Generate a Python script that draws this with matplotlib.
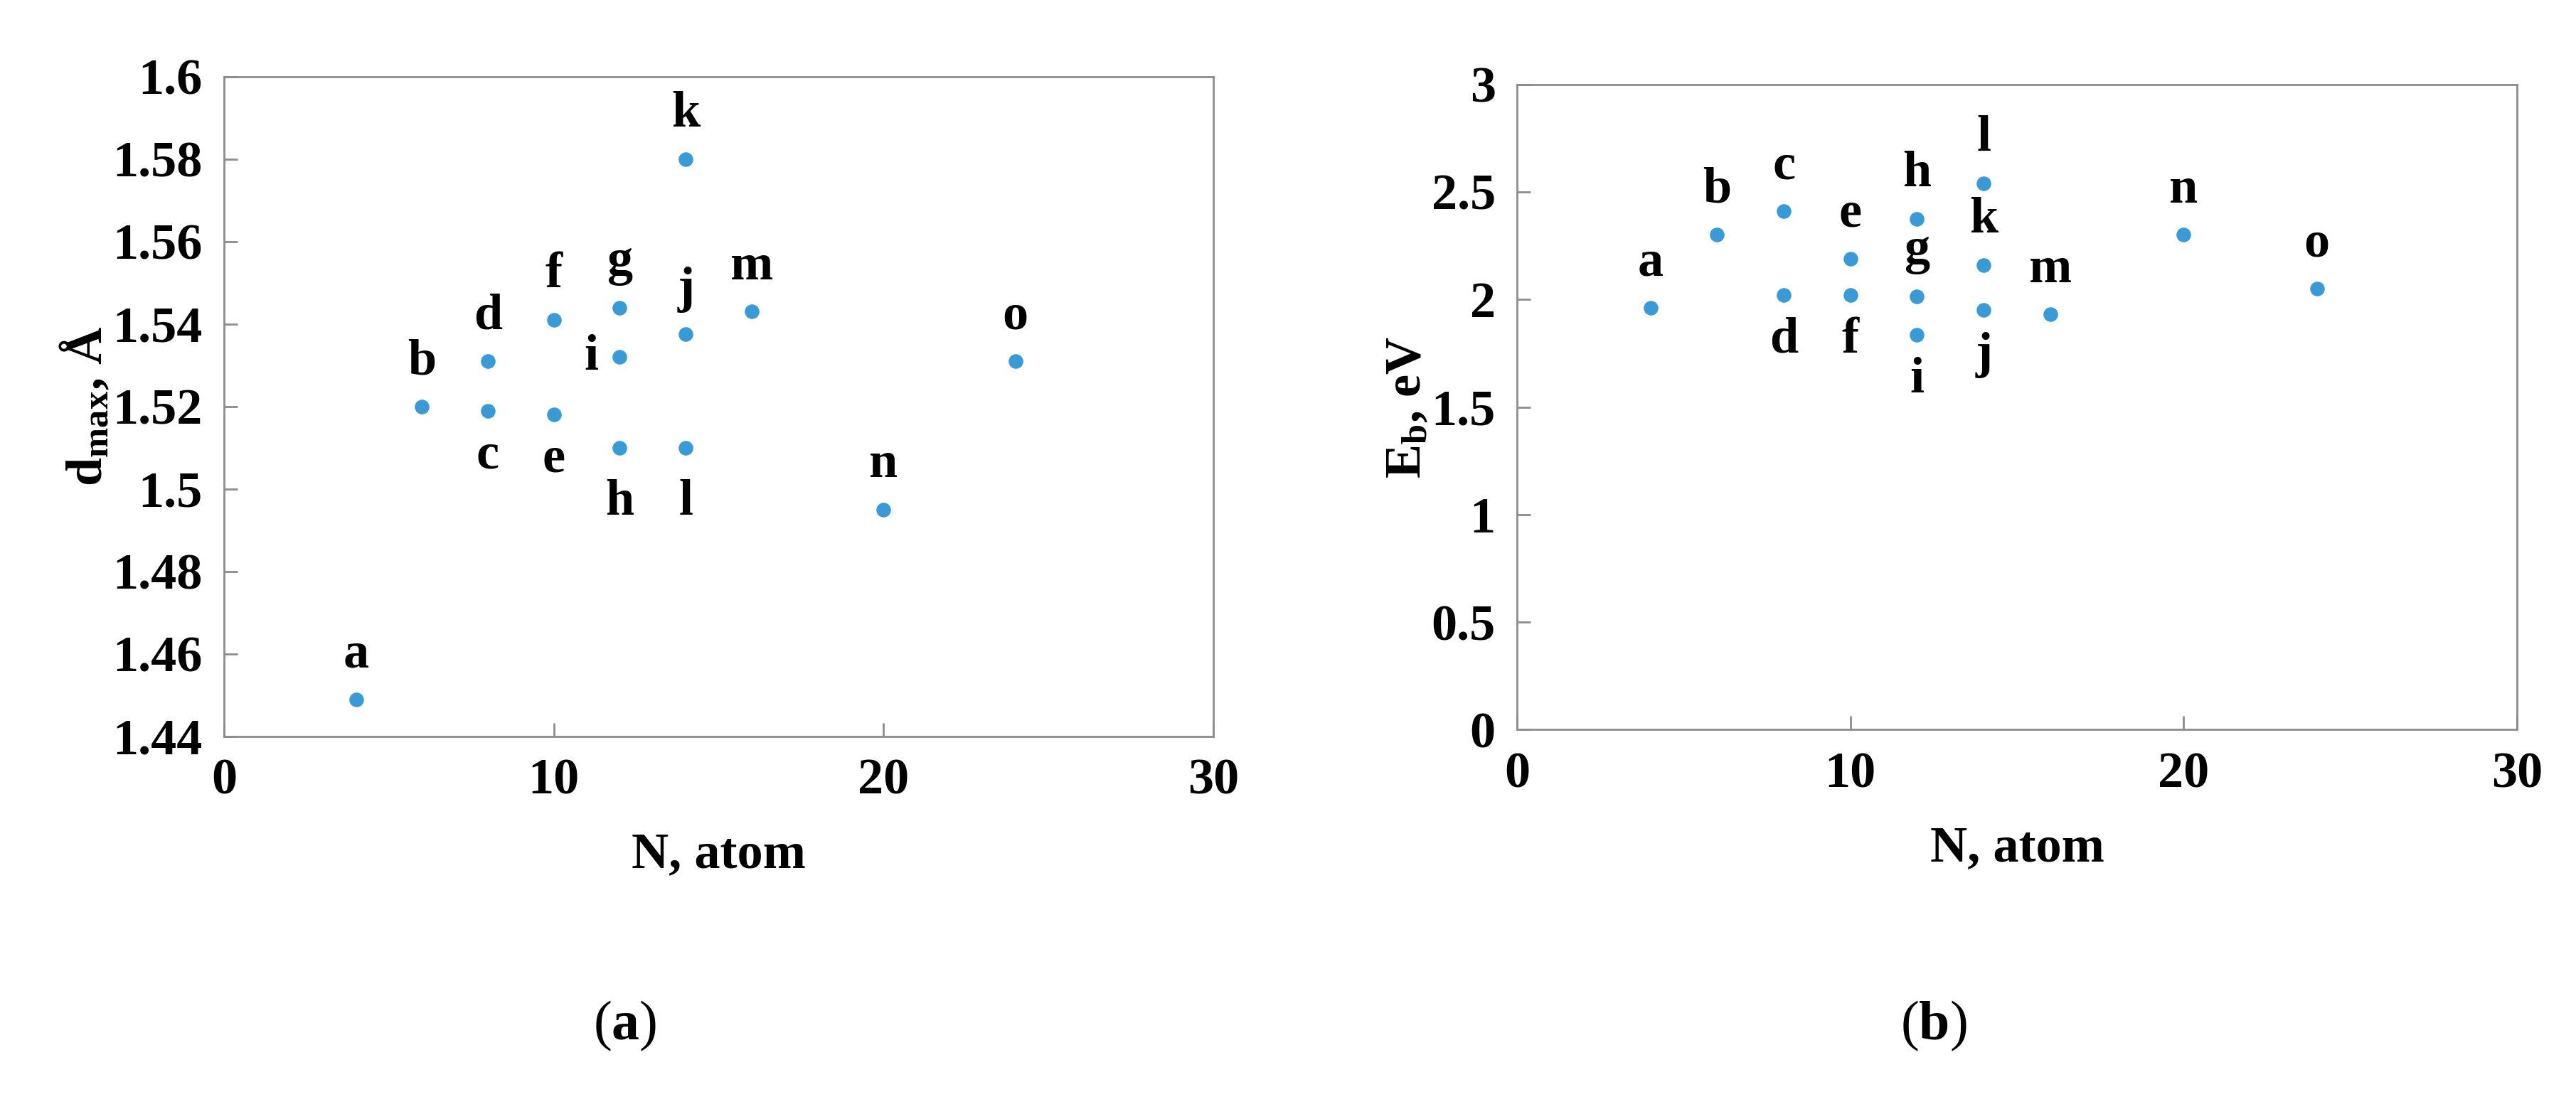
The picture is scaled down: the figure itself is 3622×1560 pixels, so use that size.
import matplotlib
matplotlib.use('Agg')
import matplotlib.pyplot as plt

plt.rcParams['font.family'] = ['Liberation Serif', 'DejaVu Serif']
plt.rcParams['font.weight'] = 'bold'
plt.rcParams['axes.labelweight'] = 'bold'
plt.rcParams['mathtext.fontset'] = 'custom'
plt.rcParams['mathtext.rm'] = 'Liberation Serif:bold'
plt.rcParams['mathtext.it'] = 'Liberation Serif:bold'
plt.rcParams['mathtext.bf'] = 'Liberation Serif:bold'

# data
labels = ['a', 'b', 'c', 'd', 'e', 'f', 'g', 'h', 'i', 'j', 'k', 'l', 'm', 'n', 'o']
n_a = [4, 6, 8, 8, 10, 10, 12, 12, 12, 14, 14, 14, 16, 20, 24]
dmax = [1.449, 1.520, 1.519, 1.531, 1.518, 1.541, 1.544, 1.510, 1.532,
        1.5375, 1.580, 1.510, 1.543, 1.495, 1.531]
n_b = [4, 6, 8, 8, 10, 10, 12, 12, 12, 14, 14, 14, 16, 20, 24]
eb = [1.961, 2.30, 2.41, 2.02, 2.19, 2.02, 2.014, 2.375, 1.835,
      1.95, 2.16, 2.54, 1.93, 2.30, 2.05]

# label placement: 'u' above, 'd' below, 'dd' further below, 'l' left
pos_a = ['u', 'u', 'd', 'u', 'd', 'u', 'u', 'dd', 'l', 'u', 'u', 'dd', 'u', 'u', 'u']
pos_b = ['u', 'u', 'u', 'd', 'u', 'd', 'u', 'u', 'd', 'd', 'u', 'u', 'u', 'u', 'u']

blue = '#3a9ad6'
fs = 52

fig = plt.figure(figsize=(36.22, 15.60), dpi=100)
ax1 = fig.add_axes([0.087, 0.336, 0.384, 0.595])
ax2 = fig.add_axes([0.589, 0.342, 0.388, 0.582])


def annotate(ax, xs, ys, labs, pos):
    for x, y, t, p in zip(xs, ys, labs, pos):
        if p == 'u':
            ax.annotate(t, (x, y), xytext=(0, 22), textcoords='offset points',
                        ha='center', va='bottom', fontsize=fs)
        elif p == 'd':
            ax.annotate(t, (x, y), xytext=(0, -22), textcoords='offset points',
                        ha='center', va='top', fontsize=fs)
        elif p == 'dd':
            ax.annotate(t, (x, y), xytext=(0, -32), textcoords='offset points',
                        ha='center', va='top', fontsize=fs)
        else:
            ax.annotate(t, (x, y), xytext=(-22, 0), textcoords='offset points',
                        ha='right', va='center', fontsize=fs)


for ax in (ax1, ax2):
    for s in ax.spines.values():
        s.set_color('#8c8c8c')
        s.set_linewidth(2)
    ax.tick_params(direction='in', length=14, width=2, color='#8c8c8c',
                   labelsize=fs, pad=22)
    ax.set_xlim(0, 30)
    ax.set_xticks([0, 10, 20, 30])
    ax.set_xlabel('N, atom', fontsize=fs, labelpad=28)

ax1.scatter(n_a, dmax, s=190, color=blue, zorder=3)
ax1.set_ylim(1.44, 1.6)
ax1.set_yticks([1.44, 1.46, 1.48, 1.5, 1.52, 1.54, 1.56, 1.58, 1.6])
ax1.set_yticklabels(['1.44', '1.46', '1.48', '1.5', '1.52', '1.54', '1.56', '1.58', '1.6'])
ax1.set_ylabel(r'$\mathregular{d_{max}}$, Å', fontsize=fs, labelpad=0)
annotate(ax1, n_a, dmax, labels, pos_a)

ax2.scatter(n_b, eb, s=190, color=blue, zorder=3)
ax2.set_ylim(0, 3)
ax2.set_yticks([0, 0.5, 1, 1.5, 2, 2.5, 3])
ax2.set_yticklabels(['0', '0.5', '1', '1.5', '2', '2.5', '3'])
ax2.set_ylabel(r'$\mathregular{E_{b}}$, eV', fontsize=fs, labelpad=0)
annotate(ax2, n_b, eb, labels, pos_b)

fig.text(0.2425, 0.075, r'($\mathbf{a}$)', fontsize=56, fontweight='normal',
         ha='center', va='center')
fig.text(0.7507, 0.075, r'($\mathbf{b}$)', fontsize=56, fontweight='normal',
         ha='center', va='center')

fig.savefig('out.png', dpi=100, facecolor='white')
